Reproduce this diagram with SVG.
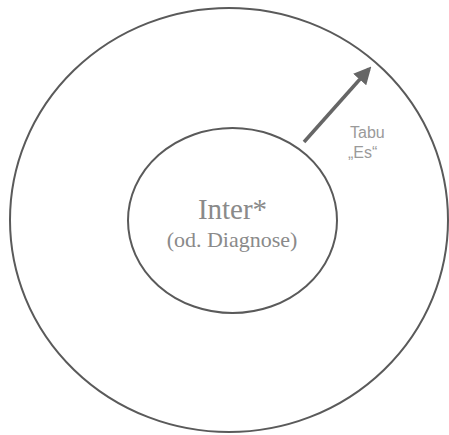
<svg xmlns="http://www.w3.org/2000/svg" width="449" height="435" viewBox="0 0 449 435">
<style>
.ring{fill:none;stroke:#5a5a5a;stroke-width:2}
.serif{font-family:"Liberation Serif","Times New Roman",serif;fill:#8a8a8a;text-anchor:middle}
.sans{font-family:"Liberation Sans",Arial,sans-serif;fill:#9a9a9a;font-size:16px}
.arrow{stroke:#666;stroke-width:3.5;fill:none}
</style>
<defs>
<marker id="ah" markerWidth="5" markerHeight="5" refX="4" refY="2.5" orient="auto" markerUnits="strokeWidth">
<path d="M0,0 L5,2.5 L0,5 z" fill="#666"/>
</marker>
</defs>
<rect width="449" height="435" fill="#fff"/>
<g id="outer">
<ellipse class="ring" cx="229" cy="220" rx="219" ry="212"/>
</g>
<g id="inner">
<ellipse class="ring" cx="232.5" cy="220.5" rx="104.5" ry="92.5"/>
<text class="serif" x="232.5" y="219" font-size="29">Inter*</text>
<text class="serif" x="232" y="247" font-size="22">(od. Diagnose)</text>
</g>
<g id="label">
<text class="sans" x="350" y="138">Tabu</text>
<text class="sans" x="348" y="158">„Es“</text>
</g>
<g id="connectors">
<line class="arrow" x1="304" y1="142" x2="369" y2="69" marker-end="url(#ah)"/>
</g>
</svg>
